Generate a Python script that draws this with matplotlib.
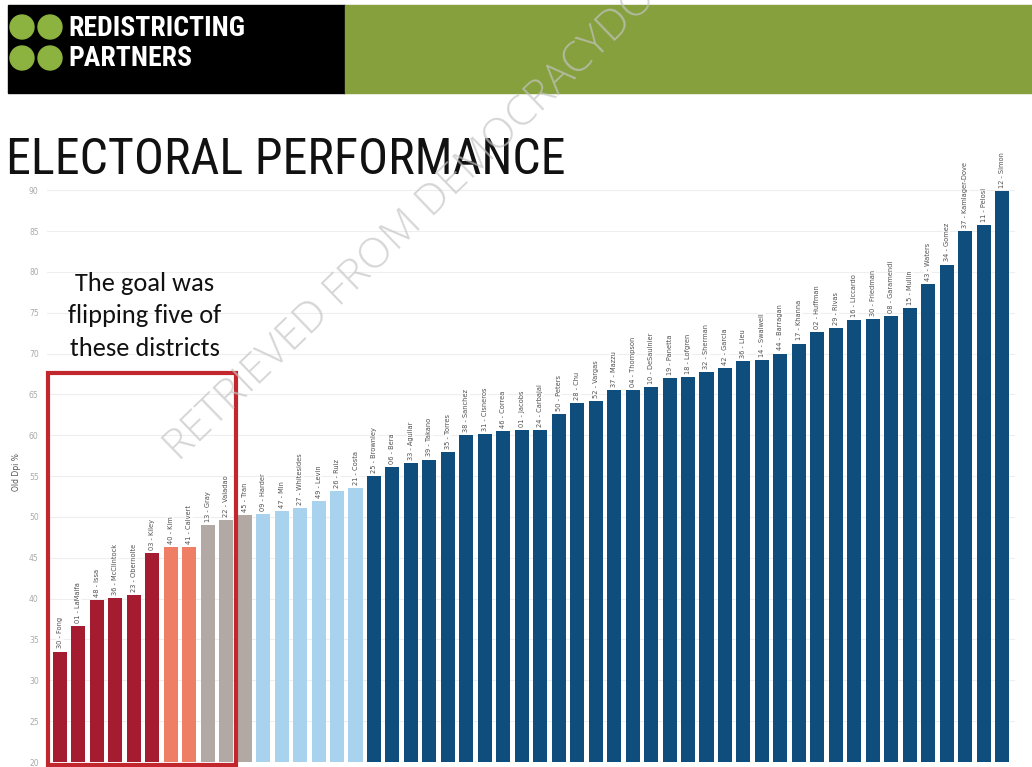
import matplotlib
matplotlib.use("Agg")
import matplotlib.pyplot as plt
from matplotlib.patches import Rectangle, Ellipse

# districts, left to right
labels = [
    "30 - Fong", "01 - LaMalfa", "48 - Issa", "36 - McClintock", "23 - Obernolte",
    "03 - Kiley", "40 - Kim", "41 - Calvert", "13 - Gray", "22 - Valadao",
    "45 - Tran", "09 - Harder", "47 - Min", "27 - Whitesides", "49 - Levin",
    "26 - Ruiz", "21 - Costa", "25 - Brownley", "06 - Bera", "33 - Aguilar",
    "39 - Takano", "35 - Torres", "38 - Sanchez", "31 - Cisneros", "46 - Correa",
    "01 - Jacobs", "24 - Carbajal", "50 - Peters", "28 - Chu", "52 - Vargas",
    "37 - Mazzu", "04 - Thompson", "10 - DeSaulnier", "19 - Panetta", "18 - Lofgren",
    "32 - Sherman", "42 - Garcia", "36 - Lieu", "14 - Swalwell", "44 - Barragan",
    "17 - Khanna", "02 - Huffman", "29 - Rivas", "16 - Liccardo", "30 - Friedman",
    "08 - Garamendi", "15 - Mullin", "43 - Waters", "34 - Gomez",
    "37 - Kamlager-Dove", "11 - Pelosi", "12 - Simon",
]
values = [
    33.5, 36.6, 39.8, 40.1, 40.4, 45.6, 46.3, 46.3, 49.0, 49.6,
    50.2, 50.3, 50.7, 51.1, 51.9, 53.2, 53.5, 55.0, 56.1, 56.6,
    57.0, 57.9, 60.0, 60.1, 60.5, 60.6, 60.6, 62.6, 63.9, 64.2,
    65.5, 65.5, 65.9, 67.0, 67.1, 67.7, 68.2, 69.1, 69.2, 70.0,
    71.2, 72.6, 73.1, 74.1, 74.2, 74.6, 75.6, 78.5, 80.9,
    85.0, 85.7, 89.9,
]
# category per bar
groups = (["red"] * 6 + ["salmon"] * 2 + ["taupe"] * 3 + ["light"] * 6
          + ["navy"] * 35)
palette = {"red": "#A51C30", "salmon": "#EF7F64", "taupe": "#B3A9A4",
           "light": "#A9D2EE", "navy": "#0F4D7D"}
yticks = list(range(20, 91, 5))

COND = ["Roboto Condensed", "DejaVu Sans"]

fig = plt.figure(figsize=(10.32, 7.67), dpi=100)
W, H = 1032, 767

# header
fig.patches.append(Rectangle((8 / W, 1 - 93 / H), 337 / W, 88 / H,
                             transform=fig.transFigure, color="#000000", zorder=0))
fig.patches.append(Rectangle((345 / W, 1 - 93 / H), 687 / W, 88 / H,
                             transform=fig.transFigure, color="#85A03C", zorder=0))
for cx, cy in [(22, 27), (50, 27), (22, 58), (50, 58)]:
    fig.patches.append(Ellipse((cx / W, 1 - cy / H), 24 / W, 24 / H,
                               transform=fig.transFigure, color="#8CB33F", zorder=1))
fig.text(68 / W, 1 - 28 / H, "REDISTRICTING", color="white", fontsize=20,
         fontweight="bold", va="center", family=COND)
fig.text(68 / W, 1 - 59 / H, "PARTNERS", color="white", fontsize=20,
         fontweight="bold", va="center", family=COND)

fig.text(6 / W, 1 - 160 / H, "ELECTORAL PERFORMANCE", color="#111111", fontsize=36,
         va="center", family=COND)

ax = fig.add_axes([47 / W, 5 / H, 968 / W, 580 / H])
x = list(range(len(values)))
ax.bar(x, [v - 20 for v in values], bottom=20, width=0.76,
       color=[palette[g] for g in groups], zorder=2)
for i, (lab, v) in enumerate(zip(labels, values)):
    ax.text(i, v + 0.4, lab, rotation=90, ha="center", va="bottom", fontsize=4.8,
            color="#505050", zorder=3,
            bbox=dict(boxstyle="square,pad=0.1", fc="white", ec="none", alpha=0.8))

ax.set_xlim(-0.7, 51.7)
ax.set_ylim(20, 91)
ax.set_yticks(yticks)
ax.set_yticklabels([str(t) for t in yticks], fontsize=5.5, color="#aaaaaa")
ax.set_xticks([])
ax.tick_params(axis="y", length=0, pad=6)
ax.grid(axis="y", color="#eeeeee", linewidth=0.8, zorder=0)
for s in ax.spines.values():
    s.set_visible(False)
ax.set_ylabel("Old Dpi %", fontsize=5.5, color="#555555", labelpad=6)

# box around the target districts
ax.add_patch(Rectangle((-0.65, 19.6), 10.2, 48.0, fill=False, ec="#C1272D",
                       lw=3, clip_on=False, zorder=4))
ax.text(4.6, 74.6, "The goal was\nflipping five of\nthese districts", ha="center",
        va="center", fontsize=19, color="#111111", linespacing=1.5,
        family=["Carlito", "DejaVu Sans"], zorder=5)

# watermark
fig.text(0.467, 0.80, "RETRIEVED FROM DEMOCRACYDOCKET.COM", rotation=44, ha="center",
         va="center", fontsize=31, color="#c4c4c4", alpha=0.7, zorder=10,
         family=["Open Sans", "DejaVu Sans"], fontweight="light")

fig.savefig("out.png", dpi=100)
